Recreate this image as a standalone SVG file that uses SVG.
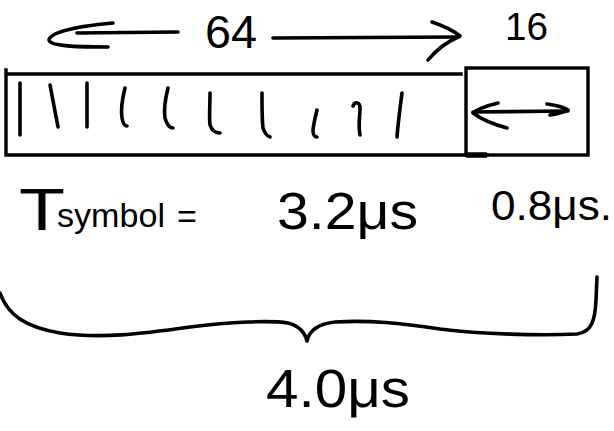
<svg xmlns="http://www.w3.org/2000/svg" width="614" height="431" viewBox="0 0 614 431">
<style>
.ink{fill:none;stroke:#000;stroke-width:3.6;stroke-linecap:round;stroke-linejoin:round}
.box{fill:none;stroke:#000;stroke-width:3.4;stroke-linecap:square}
.t{font-family:"Liberation Sans","DejaVu Sans",sans-serif;fill:#000}
</style>
<rect width="614" height="431" fill="#fff"/>
<g id="data-block">
  <path class="box" d="M7,74 L461,74 M6,70 L6,155 L487,155"/>
  <path d="M466,155 L487,155" stroke="#000" stroke-width="5.5"/>
  <g id="samples">
    <path class="ink" d="M20,83 L20,135"/>
    <path class="ink" d="M50,85 L58,127"/>
    <path class="ink" d="M87,83 L87,127"/>
    <path class="ink" d="M125,88 C122,100 121,112 122,118 C123,124 125,126 127,126"/>
    <path class="ink" d="M168,88 C165,100 164,112 165,118 C167,125 170,128 173,128"/>
    <path class="ink" d="M210,93 C210,105 209,118 210,125 C212,131 216,133 220,133"/>
    <path class="ink" d="M262,93 C262,108 262,120 263,128 C265,134 267,136 270,137"/>
    <path class="ink" d="M317,110 C315,118 313,126 313,131 C313,135 315,137 317,137"/>
    <path class="ink" d="M353,106 C355,101 360,102 360,108 C360,116 358,125 360,135"/>
    <path class="ink" d="M402,93 C400,108 398,124 397,137"/>
  </g>
</g>
<g id="cp-block">
  <rect class="box" x="466" y="68" width="122" height="87"/>
</g>
<g id="label-64"><text class="t" x="205" y="48" font-size="46" textLength="52" lengthAdjust="spacingAndGlyphs">64</text></g>
<g id="label-16"><text class="t" x="505" y="40" font-size="38" textLength="43" lengthAdjust="spacingAndGlyphs">16</text></g>
<g id="label-tsymbol">
  <text class="t" x="19" y="230" font-size="60" textLength="46" lengthAdjust="spacingAndGlyphs">T</text>
  <text class="t" x="57" y="227" font-size="34" textLength="108" lengthAdjust="spacingAndGlyphs">symbol</text>
  <text class="t" x="177" y="228" font-size="34">=</text>
  <text class="t" x="277" y="229" font-size="52" textLength="141" lengthAdjust="spacingAndGlyphs">3.2μs</text>
</g>
<g id="label-cp-time"><text class="t" x="491" y="220" font-size="42" textLength="121" lengthAdjust="spacingAndGlyphs">0.8μs.</text></g>
<g id="label-total"><text class="t" x="266" y="407" font-size="54" textLength="144" lengthAdjust="spacingAndGlyphs">4.0μs</text></g>
<g id="connectors">
  <path class="ink" d="M77,33 L178,32"/>
  <path class="ink" d="M113,23 C80,26 50,32 49,40 C50,47 85,47 108,47"/>
  <path class="ink" d="M273,38 L458,37"/>
  <path class="ink" d="M432,22 Q450,28 460,36 Q440,45 428,60"/>
  <path class="ink" d="M473,112 L568,111"/>
  <path class="ink" d="M498,103 Q478,108 473,113 Q485,122 507,128"/>
  <path class="ink" d="M547,104 Q562,106 568,110 Q560,114 550,115"/>
  <path class="ink" d="M0,293 C8,315 25,327 60,333 C100,339 140,334 190,327 C230,322 270,320 288,323 C300,326 305,333 307,341 C309,332 316,324 335,322 C370,320 400,323 440,329 C480,334 540,336 577,334 C592,332 595,320 596,300 L597,277"/>
</g>
</svg>
